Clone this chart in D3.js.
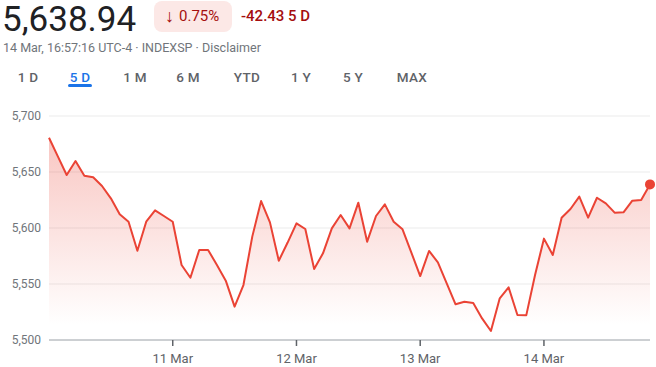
<!DOCTYPE html>
<html><head><meta charset="utf-8">
<script src="https://cdn.jsdelivr.net/npm/d3@7"></script>
<style>
html,body{margin:0;padding:0;background:#fff;}
svg{display:block;font-family:Roboto, Arial, sans-serif;}
</style></head>
<body>
<svg id="chart" width="656" height="367"></svg>
<script>
// ---- data ----
const values = [
 5680.6, 5664.0, 5647.3, 5659.8, 5646.7, 5645.3, 5637.5, 5626.5, 5612.2, 5605.6,
 5579.7, 5605.6, 5615.8, 5610.7, 5605.6, 5567.0, 5555.6, 5580.4, 5580.4, 5567.0,
 5553.0, 5529.8, 5549.1, 5592.3, 5624.1, 5605.0, 5570.8, 5587.0, 5604.2, 5599.1,
 5563.4, 5577.4, 5599.7, 5611.6, 5599.7, 5622.6, 5587.8, 5610.7, 5621.1, 5605.6,
 5598.8, 5578.0, 5557.1, 5579.5, 5569.4, 5550.6, 5531.9, 5534.2, 5533.0, 5519.3,
 5508.0, 5537.2, 5547.0, 5522.3, 5522.0, 5558.2, 5590.5, 5575.9, 5609.2, 5617.0,
 5628.0, 5609.2, 5627.0, 5622.0, 5613.7, 5614.0, 5624.4, 5625.0, 5638.94
];
const dayLabels = ["11 Mar", "12 Mar", "13 Mar", "14 Mar"];
const dayStartIndex = [14, 28, 42, 56];
const yTicks = [5500, 5550, 5600, 5650, 5700];
const rangeTabs = ["1 D", "5 D", "1 M", "6 M", "YTD", "1 Y", "5 Y", "MAX"];
const tabCenters = [28, 80, 135, 188, 247, 301, 353, 412];
const activeTab = "5 D";
const price = "5,638.94";
const pctChange = "0.75%";
const absChange = "-42.43 5 D";
const subtitle = "14 Mar, 16:57:16 UTC-4 · INDEXSP · Disclaimer";

// ---- drawing ----
const svg = d3.select("#chart");
const x = d3.scaleLinear().domain([0, values.length - 1]).range([49, 650]);
const y = d3.scaleLinear().domain([5500, 5700]).range([340, 116]);
const red = "#ea4335";

// header
svg.append("text").attr("x", 2).attr("y", 31).attr("font-size", 35)
  .attr("fill", "#202124").text(price);
svg.append("rect").attr("x", 154).attr("y", 1).attr("width", 78).attr("height", 31)
  .attr("rx", 8).attr("fill", "#fce8e6");
svg.append("text").attr("x", 169.5).attr("y", 22).attr("font-size", 18).attr("font-weight", 700)
  .attr("text-anchor", "middle").attr("fill", "#a50e0e").text("↓");
svg.append("text").attr("x", 179).attr("y", 21).attr("font-size", 15)
  .attr("fill", "#a50e0e").text(pctChange);
svg.append("text").attr("x", 241).attr("y", 21).attr("font-size", 15)
  .attr("font-weight", 500).attr("fill", "#a50e0e").text(absChange);
svg.append("text").attr("x", 3).attr("y", 52).attr("font-size", 12.5)
  .attr("fill", "#70757a").text(subtitle);

// tabs
svg.selectAll("text.tab").data(rangeTabs).join("text").attr("class", "tab")
  .attr("x", (d, i) => tabCenters[i]).attr("y", 82).attr("text-anchor", "middle")
  .attr("font-size", 13.5).attr("font-weight", 500).attr("letter-spacing", 0.3)
  .attr("fill", d => d === activeTab ? "#1a73e8" : "#5f6368").text(d => d);
const ai = rangeTabs.indexOf(activeTab);
svg.append("rect").attr("x", tabCenters[ai] - 12).attr("y", 84).attr("width", 24)
  .attr("height", 3).attr("rx", 1.5).attr("fill", "#1a73e8");

// grid
svg.append("g").selectAll("line").data(yTicks.filter(d => d !== 5500)).join("line")
  .attr("x1", 49).attr("x2", 650).attr("y1", d => y(d)).attr("y2", d => y(d))
  .attr("stroke", "#ebebeb").attr("stroke-width", 1);
svg.append("g").selectAll("text").data(yTicks).join("text")
  .attr("x", 41).attr("y", d => y(d) + 4.3).attr("text-anchor", "end")
  .attr("font-size", 12).attr("fill", "#70757a").text(d => d3.format(",")(d));

// gradient
const defs = svg.append("defs");
const grad = defs.append("linearGradient").attr("id", "fillGrad")
  .attr("gradientUnits", "userSpaceOnUse").attr("x1", 0).attr("x2", 0)
  .attr("y1", 125).attr("y2", 325);
grad.append("stop").attr("offset", 0).attr("stop-color", red).attr("stop-opacity", 0.32);
grad.append("stop").attr("offset", 1).attr("stop-color", red).attr("stop-opacity", 0);

const area = d3.area().x((d, i) => x(i)).y0(y(5500)).y1(d => y(d));
svg.append("path").datum(values).attr("d", area).attr("fill", "url(#fillGrad)");

// axis line + ticks
svg.append("line").attr("x1", 49).attr("x2", 650).attr("y1", y(5500)).attr("y2", y(5500))
  .attr("stroke", "#9aa0a6").attr("stroke-width", 1);
svg.append("g").selectAll("line").data(dayStartIndex).join("line")
  .attr("x1", d => x(d)).attr("x2", d => x(d)).attr("y1", y(5500)).attr("y2", y(5500) + 6)
  .attr("stroke", "#5f6368").attr("stroke-width", 1.5);
svg.append("g").selectAll("text").data(dayLabels).join("text")
  .attr("x", (d, i) => x(dayStartIndex[i])).attr("y", 362.5).attr("text-anchor", "middle")
  .attr("font-size", 13).attr("fill", "#5f6368").text(d => d);

// line
const line = d3.line().x((d, i) => x(i)).y(d => y(d));
svg.append("path").datum(values).attr("d", line).attr("fill", "none")
  .attr("stroke", red).attr("stroke-width", 2).attr("stroke-linejoin", "round");
svg.append("circle").attr("cx", x(values.length - 1)).attr("cy", y(values[values.length - 1]))
  .attr("r", 5).attr("fill", red);
</script>
</body></html>
